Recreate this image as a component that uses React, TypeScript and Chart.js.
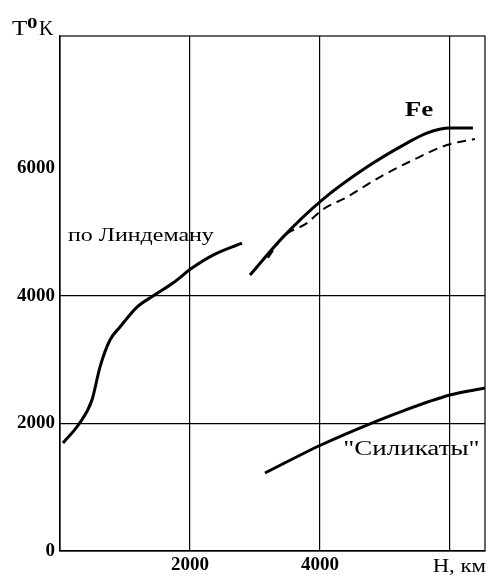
import React, { useEffect, useRef } from "react";
import { Chart, registerables } from "chart.js";

Chart.register(...registerables);

const lindemannX = [46, 292, 492, 615, 769, 923, 1185, 1431, 1738, 2031, 2354, 2800];
const lindemannY = [1694, 1992, 2369, 2886, 3310, 3514, 3827, 4000, 4204, 4439, 4643, 4831];

const feX = [2923, 3431, 4031, 4723, 5338, 5646, 6000, 6354];
const feY = [4329, 4925, 5506, 6024, 6400, 6557, 6635, 6635];

const feDashX = [3200, 3431, 3800, 4031, 4415, 4923, 5431, 5954, 6385];
const feDashY = [4600, 4925, 5145, 5349, 5553, 5867, 6133, 6369, 6463];

const silX = [3154, 4015, 4723, 5231, 6000, 6538];
const silY = [1224, 1663, 1976, 2180, 2447, 2557];

const xTicks = [2000, 4000, 6000];
const yTicks = [0, 2000, 4000, 6000];
const xGridShown = [2000, 4000, 6000];
const yGridShown = [2000, 4000];

const zip = (xs: number[], ys: number[]) => xs.map((x, i) => ({ x, y: ys[i] }));

const SERIF = "'Liberation Serif', 'DejaVu Serif', serif";

function wideText(ctx: any, text: string, x: number, y: number, font: string, sx: number, align: "left" | "center" | "right", baseline: string) {
  ctx.save();
  ctx.font = font;
  ctx.textBaseline = baseline;
  ctx.textAlign = "left";
  const w = ctx.measureText(text).width * sx;
  let left = x;
  if (align === "center") left = x - w / 2;
  else if (align === "right") left = x - w;
  ctx.translate(left, y);
  ctx.scale(sx, 1);
  ctx.fillText(text, 0, 0);
  ctx.restore();
}

export default function App() {
  const ref = useRef<HTMLCanvasElement | null>(null);

  useEffect(() => {
    if (!ref.current) return;
    const textPlugin = {
      id: "texts",
      afterDraw(chart: any) {
        const { ctx, chartArea, scales } = chart;
        const xs = scales.x, ys = scales.y;
        ctx.save();
        ctx.strokeStyle = "#000";
        ctx.lineWidth = 1.2;
        ctx.strokeRect(chartArea.left, chartArea.top, chartArea.right - chartArea.left, chartArea.bottom - chartArea.top);
        ctx.fillStyle = "#000";
        wideText(ctx, "по Линдеману", xs.getPixelForValue(123), ys.getPixelForValue(4941), `18px ${SERIF}`, 1.33, "left", "middle");
        wideText(ctx, "\"Силикаты\"", xs.getPixelForValue(5408), ys.getPixelForValue(1584), `20px ${SERIF}`, 1.35, "center", "middle");
        wideText(ctx, "Fe", xs.getPixelForValue(5523), ys.getPixelForValue(6900), `bold 20px ${SERIF}`, 1.35, "center", "middle");
        wideText(ctx, "T", 12, 35, `20px ${SERIF}`, 1.25, "left", "alphabetic");
        wideText(ctx, "0", 27, 28, `bold 15px ${SERIF}`, 1.4, "left", "alphabetic");
        wideText(ctx, "K", 39, 35, `20px ${SERIF}`, 1.0, "left", "alphabetic");
        wideText(ctx, "H, км", 486, 572, `19px ${SERIF}`, 1.2, "right", "alphabetic");
        ctx.restore();
      },
    };

    const chart = new Chart(ref.current, {
      type: "line",
      data: {
        datasets: [
          { data: zip(lindemannX, lindemannY), borderColor: "#000", borderWidth: 3, pointRadius: 0, cubicInterpolationMode: "monotone", fill: false },
          { data: zip(feX, feY), borderColor: "#000", borderWidth: 3, pointRadius: 0, cubicInterpolationMode: "monotone", fill: false },
          { data: zip(feDashX, feDashY), borderColor: "#000", borderWidth: 2, borderDash: [9, 6], pointRadius: 0, cubicInterpolationMode: "monotone", fill: false },
          { data: zip(silX, silY), borderColor: "#000", borderWidth: 3, pointRadius: 0, cubicInterpolationMode: "monotone", fill: false },
        ],
      },
      options: {
        animation: false,
        responsive: false,
        maintainAspectRatio: false,
        layout: { padding: { top: 36, right: 3, left: 0, bottom: 0 } },
        plugins: { legend: { display: false }, tooltip: { enabled: false } },
        scales: {
          x: {
            type: "linear",
            min: 0,
            max: 6540,
            afterBuildTicks: (s: any) => { s.ticks = xTicks.map((v) => ({ value: v })); },
            afterFit: (s: any) => { s.height = 25; },
            ticks: {
              color: "#000",
              padding: 3,
              maxRotation: 0,
              autoSkip: false,
              font: { family: SERIF, size: 19, weight: "bold" },
              callback: (v: any) => (v === 6000 ? "" : String(v)),
            },
            grid: {
              drawTicks: false,
              color: (c: any) => (c.tick && xGridShown.includes(c.tick.value) ? "#000" : "rgba(0,0,0,0)"),
              lineWidth: 1.2,
            },
            border: { color: "#000", width: 1.2 },
          },
          y: {
            type: "linear",
            min: 0,
            max: 8080,
            afterBuildTicks: (s: any) => { s.ticks = yTicks.map((v) => ({ value: v })); },
            afterFit: (s: any) => { s.width = 60; },
            ticks: {
              color: "#000",
              padding: 5,
              autoSkip: false,
              font: { family: SERIF, size: 19, weight: "bold" },
              callback: (v: any) => String(v),
            },
            grid: {
              drawTicks: false,
              color: (c: any) => (c.tick && yGridShown.includes(c.tick.value) ? "#000" : "rgba(0,0,0,0)"),
              lineWidth: 1.2,
            },
            border: { color: "#000", width: 1.2 },
          },
        },
      },
      plugins: [textPlugin],
    } as any);
    return () => chart.destroy();
  }, []);

  return (
    <div style={{ position: "fixed", left: 0, top: 0, width: 488, height: 576, background: "#fff" }}>
      <canvas ref={ref} width={488} height={576} style={{ width: 488, height: 576, display: "block" }} />
    </div>
  );
}
